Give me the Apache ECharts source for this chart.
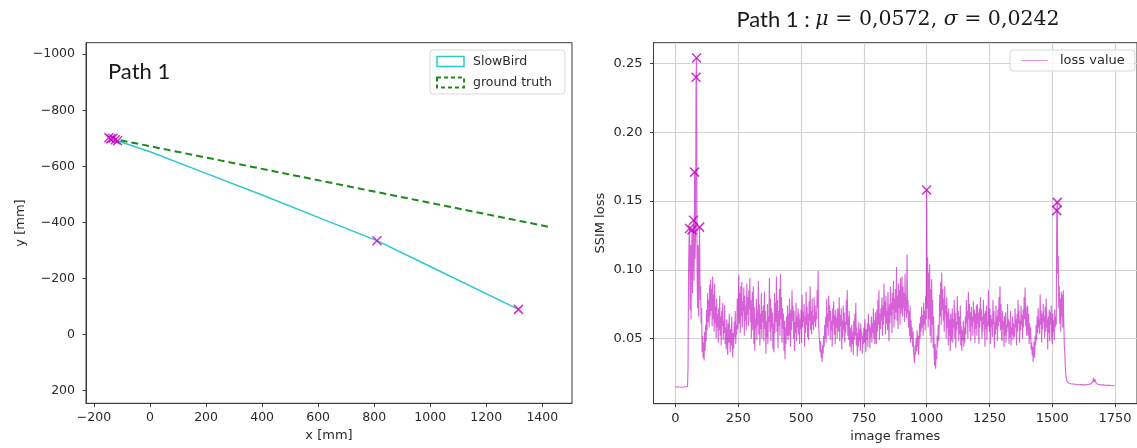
<!DOCTYPE html>
<html>
<head>
<meta charset="utf-8">
<script src="https://cdn.jsdelivr.net/npm/echarts@6/dist/echarts.min.js"></script>
<style>
html, body { margin: 0; padding: 0; background: #fff; }
#chart { width: 1137px; height: 448px; }
</style>
</head>
<body>
<div id="chart"></div>
<script>
// ---- Path 1 trajectory (left panel), millimetres ----
const slowBirdX = [-120, 0, 200, 400, 600, 810, 1000, 1315];
const slowBirdY = [-692, -652, -575, -498, -418, -335, -243, -90];
const groundTruthX = [-105, 1420];
const groundTruthY = [-693, -385];
const pathMarkX = [-147, -140, -132, -124, -116, 810, 1315];
const pathMarkY = [-702, -698, -700, -695, -691, -335, -90];
const xTicksMm = [-200, 0, 200, 400, 600, 800, 1000, 1200, 1400];
const yTicksMm = [-1000, -800, -600, -400, -200, 0, 200];

// ---- SSIM loss per image frame (right panel), one value every 2 frames ----
const frameStep = 2;
const lossValues = [
  // 0 - 48
  0.0148, 0.0148, 0.0147, 0.0148, 0.0147, 0.0147, 0.0148, 0.0147, 0.0147, 0.0146, 0.0147, 0.0146, 0.0146, 0.0147, 0.0146, 0.0146, 0.0147, 0.0146, 0.0146, 0.0146, 0.0147, 0.0146, 0.0146, 0.0147, 0.0152,
  // 50 - 98
  0.029, 0.098, 0.122, 0.130, 0.071, 0.118, 0.064, 0.112, 0.129, 0.083, 0.124, 0.136, 0.092, 0.171, 0.108, 0.127, 0.240, 0.254, 0.097, 0.072, 0.118, 0.066, 0.104, 0.131, 0.078,
  // 100 - 148
  0.088, 0.061, 0.072, 0.040, 0.052, 0.036, 0.047, 0.034, 0.055, 0.041, 0.060, 0.048, 0.071, 0.056, 0.083, 0.062, 0.078, 0.058, 0.089, 0.066, 0.093, 0.070, 0.086, 0.059, 0.095,
  // 150 - 198
  0.064, 0.082, 0.055, 0.090, 0.061, 0.073, 0.050, 0.079, 0.058, 0.068, 0.047, 0.072, 0.056, 0.081, 0.052, 0.066, 0.045, 0.070, 0.059, 0.076, 0.049, 0.063, 0.054, 0.074, 0.046,
  // 200 - 248
  0.058, 0.042, 0.064, 0.050, 0.038, 0.061, 0.047, 0.068, 0.052, 0.040, 0.057, 0.045, 0.066, 0.049, 0.036, 0.054, 0.043, 0.062, 0.051, 0.070, 0.046, 0.060, 0.053, 0.079, 0.057,
  // 250 - 298
  0.072, 0.096, 0.061, 0.083, 0.054, 0.088, 0.066, 0.091, 0.058, 0.077, 0.070, 0.087, 0.052, 0.081, 0.063, 0.074, 0.056, 0.090, 0.067, 0.080, 0.059, 0.085, 0.071, 0.094, 0.062,
  // 300 - 348
  0.078, 0.050, 0.069, 0.084, 0.056, 0.088, 0.046, 0.073, 0.041, 0.064, 0.058, 0.079, 0.049, 0.071, 0.060, 0.092, 0.053, 0.075, 0.045, 0.068, 0.057, 0.083, 0.050, 0.070, 0.062,
  // 350 - 398
  0.074, 0.048, 0.084, 0.057, 0.070, 0.039, 0.063, 0.051, 0.075, 0.046, 0.066, 0.062, 0.094, 0.055, 0.079, 0.048, 0.072, 0.058, 0.069, 0.042, 0.061, 0.040, 0.083, 0.054, 0.076,
  // 400 - 448
  0.062, 0.095, 0.055, 0.078, 0.043, 0.070, 0.059, 0.086, 0.052, 0.097, 0.064, 0.080, 0.047, 0.072, 0.057, 0.068, 0.041, 0.063, 0.035, 0.058, 0.046, 0.066, 0.052, 0.074, 0.049,
  // 450 - 498
  0.068, 0.052, 0.079, 0.060, 0.044, 0.071, 0.056, 0.085, 0.063, 0.074, 0.050, 0.070, 0.041, 0.062, 0.054, 0.076, 0.048, 0.066, 0.058, 0.072, 0.053, 0.068, 0.046, 0.064, 0.057,
  // 500 - 548
  0.071, 0.047, 0.082, 0.058, 0.069, 0.062, 0.075, 0.044, 0.066, 0.054, 0.084, 0.060, 0.073, 0.051, 0.068, 0.049, 0.077, 0.063, 0.088, 0.056, 0.070, 0.053, 0.079, 0.060, 0.066,
  // 550 - 598
  0.056, 0.080, 0.062, 0.074, 0.058, 0.069, 0.064, 0.085, 0.072, 0.099, 0.061, 0.052, 0.046, 0.040, 0.048, 0.036, 0.042, 0.033, 0.045, 0.039, 0.052, 0.044, 0.060, 0.050, 0.066,
  // 600 - 648
  0.047, 0.079, 0.058, 0.068, 0.052, 0.081, 0.063, 0.074, 0.049, 0.070, 0.056, 0.063, 0.044, 0.072, 0.060, 0.077, 0.053, 0.067, 0.046, 0.071, 0.058, 0.065, 0.050, 0.072, 0.061,
  // 650 - 698
  0.055, 0.080, 0.048, 0.067, 0.059, 0.072, 0.042, 0.063, 0.051, 0.074, 0.056, 0.069, 0.047, 0.062, 0.054, 0.078, 0.060, 0.085, 0.052, 0.066, 0.049, 0.070, 0.044, 0.058, 0.051,
  // 700 - 748
  0.040, 0.060, 0.046, 0.055, 0.038, 0.063, 0.049, 0.068, 0.052, 0.076, 0.045, 0.058, 0.037, 0.054, 0.044, 0.062, 0.048, 0.057, 0.041, 0.061, 0.050, 0.055, 0.039, 0.052, 0.046,
  // 750 - 798
  0.058, 0.047, 0.064, 0.052, 0.040, 0.057, 0.049, 0.061, 0.044, 0.068, 0.055, 0.060, 0.043, 0.058, 0.051, 0.066, 0.047, 0.061, 0.054, 0.072, 0.050, 0.063, 0.046, 0.069, 0.057,
  // 800 - 848
  0.046, 0.071, 0.055, 0.078, 0.060, 0.085, 0.049, 0.068, 0.057, 0.072, 0.063, 0.080, 0.052, 0.074, 0.060, 0.090, 0.066, 0.077, 0.053, 0.081, 0.061, 0.070, 0.056, 0.084, 0.064,
  // 850 - 898
  0.048, 0.075, 0.061, 0.088, 0.067, 0.076, 0.054, 0.083, 0.071, 0.092, 0.058, 0.079, 0.064, 0.086, 0.069, 0.102, 0.063, 0.081, 0.057, 0.090, 0.072, 0.085, 0.060, 0.094, 0.068,
  // 900 - 948
  0.074, 0.095, 0.066, 0.088, 0.072, 0.083, 0.062, 0.097, 0.070, 0.080, 0.065, 0.111, 0.068, 0.078, 0.058, 0.070, 0.052, 0.074, 0.047, 0.063, 0.050, 0.058, 0.044, 0.055, 0.040,
  // 950 - 998
  0.036, 0.032, 0.045, 0.038, 0.050, 0.041, 0.056, 0.044, 0.052, 0.038, 0.048, 0.061, 0.050, 0.066, 0.055, 0.073, 0.058, 0.067, 0.052, 0.076, 0.060, 0.070, 0.056, 0.081, 0.064,
  // 1000 - 1048
  0.158, 0.072, 0.109, 0.058, 0.098, 0.064, 0.104, 0.052, 0.086, 0.047, 0.093, 0.060, 0.078, 0.043, 0.066, 0.038, 0.030, 0.046, 0.028, 0.041, 0.035, 0.052, 0.044, 0.060, 0.048,
  // 1050 - 1098
  0.058, 0.082, 0.066, 0.091, 0.060, 0.098, 0.071, 0.086, 0.063, 0.079, 0.055, 0.088, 0.067, 0.074, 0.050, 0.080, 0.058, 0.069, 0.045, 0.072, 0.052, 0.064, 0.041, 0.068, 0.048,
  // 1100 - 1148
  0.055, 0.072, 0.047, 0.064, 0.058, 0.078, 0.050, 0.069, 0.043, 0.062, 0.056, 0.081, 0.060, 0.070, 0.048, 0.066, 0.053, 0.074, 0.045, 0.059, 0.041, 0.056, 0.049, 0.063, 0.044,
  // 1150 - 1198
  0.058, 0.047, 0.066, 0.053, 0.078, 0.061, 0.070, 0.050, 0.084, 0.064, 0.075, 0.055, 0.069, 0.048, 0.073, 0.059, 0.066, 0.052, 0.077, 0.062, 0.071, 0.047, 0.068, 0.057, 0.074,
  // 1200 - 1248
  0.052, 0.075, 0.061, 0.069, 0.046, 0.072, 0.058, 0.080, 0.063, 0.071, 0.050, 0.066, 0.055, 0.078, 0.060, 0.068, 0.044, 0.070, 0.057, 0.074, 0.049, 0.063, 0.059, 0.085, 0.062,
  // 1250 - 1298
  0.055, 0.072, 0.046, 0.067, 0.058, 0.064, 0.051, 0.078, 0.060, 0.070, 0.043, 0.062, 0.053, 0.074, 0.057, 0.066, 0.048, 0.071, 0.059, 0.080, 0.062, 0.088, 0.056, 0.075, 0.050,
  // 1300 - 1348
  0.048, 0.070, 0.057, 0.063, 0.044, 0.066, 0.052, 0.069, 0.047, 0.060, 0.055, 0.075, 0.058, 0.064, 0.046, 0.062, 0.051, 0.070, 0.045, 0.058, 0.053, 0.066, 0.049, 0.061, 0.054,
  // 1350 - 1398
  0.051, 0.072, 0.058, 0.064, 0.045, 0.068, 0.055, 0.078, 0.061, 0.070, 0.047, 0.063, 0.056, 0.074, 0.060, 0.067, 0.050, 0.071, 0.058, 0.080, 0.064, 0.087, 0.059, 0.073, 0.052,
  // 1400 - 1448
  0.062, 0.074, 0.052, 0.068, 0.046, 0.061, 0.050, 0.058, 0.042, 0.047, 0.038, 0.044, 0.033, 0.041, 0.048, 0.036, 0.052, 0.045, 0.060, 0.049, 0.066, 0.054, 0.072, 0.058, 0.064,
  // 1450 - 1498
  0.053, 0.082, 0.060, 0.070, 0.047, 0.068, 0.057, 0.075, 0.062, 0.066, 0.050, 0.073, 0.055, 0.079, 0.058, 0.064, 0.042, 0.066, 0.054, 0.071, 0.048, 0.069, 0.060, 0.074, 0.052,
  // 1500 - 1548
  0.046, 0.068, 0.055, 0.063, 0.049, 0.071, 0.058, 0.066, 0.060, 0.143, 0.149, 0.097, 0.110, 0.072, 0.088, 0.061, 0.079, 0.055, 0.084, 0.066, 0.082, 0.058, 0.085, 0.062, 0.045,
  // 1550 - 1598
  0.040, 0.030, 0.024, 0.021, 0.019, 0.0185, 0.0180, 0.0177, 0.0175, 0.0172, 0.0173, 0.0170, 0.0171, 0.0169, 0.0170, 0.0168, 0.0169, 0.0167, 0.0168, 0.0166, 0.0168, 0.0167, 0.0166, 0.0167, 0.0166,
  // 1600 - 1648
  0.0165, 0.0167, 0.0166, 0.0164, 0.0166, 0.0165, 0.0163, 0.0165, 0.0166, 0.0164, 0.0165, 0.0163, 0.0164, 0.0166, 0.0165, 0.0163, 0.0164, 0.0165, 0.0166, 0.0164, 0.0163, 0.0165, 0.0166, 0.0168, 0.0166,
  // 1650 - 1698
  0.0165, 0.0167, 0.0170, 0.0175, 0.0172, 0.0168, 0.0188, 0.0215, 0.0182, 0.0176, 0.0205, 0.0184, 0.0179, 0.0172, 0.0170, 0.0168, 0.0167, 0.0168, 0.0166, 0.0165, 0.0166, 0.0164, 0.0165, 0.0163, 0.0164,
  // 1700 - 1748
  0.0163, 0.0162, 0.0163, 0.0161, 0.0162, 0.0161, 0.0160, 0.0161, 0.0160, 0.0160, 0.0159, 0.0160, 0.0159, 0.0158, 0.0159, 0.0158, 0.0159, 0.0158, 0.0157, 0.0158, 0.0158, 0.0157, 0.0158, 0.0157, 0.0158,
  // 1750
  0.0157
];
const peakFrames = [56, 66, 72, 76, 82, 84, 96, 1000, 1518, 1520];
const frameTicks = [0, 250, 500, 750, 1000, 1250, 1500, 1750];
const lossTicks = [0.05, 0.10, 0.15, 0.20, 0.25];

// ---- styling ----
const FONT = 'DejaVu Sans';
const INK = '#2a2a2a';
const FRAME = '#3a3a3a';
const CYAN = '#2cc8cc';
const GREEN = '#1a8a1a';
const MAGENTA = '#bf00bf';
const CROSS = 'path://M0,0L10,10M10,0L0,10';

const minus = v => String(v).replace('-', '\u2212');

function valueAxis(opts) {
  return Object.assign({
    type: 'value',
    axisLine: { show: true, onZero: false, lineStyle: { color: FRAME, width: 1 } },
    axisTick: { show: true, length: 3.5, lineStyle: { color: FRAME, width: 1 }, customValues: opts.ticks },
    axisLabel: { customValues: opts.ticks, color: INK, fontFamily: FONT, fontSize: opts.fontSize, margin: opts.margin, formatter: opts.fmt },
    splitLine: opts.grid ? { show: true, lineStyle: { color: '#d2d2d2', width: 1.2 } } : { show: false },
    nameLocation: 'middle',
    nameTextStyle: { color: INK, fontFamily: FONT, fontSize: 13 }
  }, opts.extra);
}

const pair = (xs, ys) => xs.map((x, i) => [x, ys[i]]);

const chart = echarts.init(document.getElementById('chart'), null, { renderer: 'canvas' });

chart.setOption({
  animation: false,
  backgroundColor: '#fff',
  grid: [
    { left: 86, top: 42.7, width: 486, height: 360.6, show: true, borderColor: FRAME, borderWidth: 1, backgroundColor: '#fff' },
    { left: 653.5, top: 42.7, width: 486.3, height: 361, show: true, borderColor: FRAME, borderWidth: 1, backgroundColor: '#fff' }
  ],
  xAxis: [
    valueAxis({ ticks: xTicksMm, fontSize: 12.5, margin: 8, fmt: minus,
      extra: { gridIndex: 0, min: -228.5, max: 1506, name: 'x [mm]', nameGap: 26 } }),
    valueAxis({ ticks: frameTicks, fontSize: 13, margin: 8, fmt: v => String(v), grid: true,
      extra: { gridIndex: 1, min: -87.5, max: 1837.5, name: 'image frames', nameGap: 26 } })
  ],
  yAxis: [
    valueAxis({ ticks: yTicksMm, fontSize: 12.5, margin: 11, fmt: minus,
      extra: { gridIndex: 0, min: -1041, max: 245, inverse: true, name: 'y [mm]', nameGap: 59 } }),
    valueAxis({ ticks: lossTicks, fontSize: 13, margin: 11, fmt: v => v.toFixed(2), grid: true,
      extra: { gridIndex: 1, min: 0.0026, max: 0.2651, name: 'SSIM loss', nameGap: 46 } })
  ],
  legend: [
    {
      left: 430, top: 50, orient: 'vertical',
      itemWidth: 27, itemHeight: 10, itemGap: 8,
      padding: [5, 13, 5, 6],
      borderColor: '#d8d8d8', borderWidth: 1, borderRadius: 3,
      backgroundColor: 'rgba(255,255,255,0.8)',
      textStyle: { color: INK, fontFamily: FONT, fontSize: 12.5, padding: [0, 0, 0, 4] },
      selectedMode: false,
      data: [
        { name: 'SlowBird', icon: 'rect', itemStyle: { color: 'rgba(0,0,0,0)', borderColor: CYAN, borderWidth: 1.5 } },
        { name: 'ground truth', icon: 'rect', itemStyle: { color: 'rgba(0,0,0,0)', borderColor: GREEN, borderWidth: 2, borderType: [4, 3] } }
      ]
    },
    {
      left: 1010, top: 50, orient: 'vertical',
      itemWidth: 27, itemHeight: 1.2,
      padding: [4, 10, 4, 11],
      borderColor: '#d8d8d8', borderWidth: 1, borderRadius: 3,
      backgroundColor: 'rgba(255,255,255,0.8)',
      textStyle: { color: INK, fontFamily: FONT, fontSize: 13, padding: [0, 0, 0, 7] },
      selectedMode: false,
      data: [
        { name: 'loss value', icon: 'rect', itemStyle: { color: 'rgba(191,0,191,0.4)', borderWidth: 0 } }
      ]
    }
  ],
  graphic: [
    {
      type: 'text', x: 108, y: 72,
      style: { text: 'Path 1', font: '22px Lato', fill: '#1a1a1a', align: 'left', verticalAlign: 'middle' }
    },
    {
      type: 'text', x: 898, y: 20,
      style: {
        text: '{a|Path 1 : }{m|\u03bc}{b| = 0,0572, }{m|\u03c3}{b| = 0,0242}',
        align: 'center', verticalAlign: 'middle', fill: '#1a1a1a',
        rich: {
          a: { fontFamily: 'Lato', fontSize: 22, fill: '#1a1a1a' },
          m: { fontFamily: 'DejaVu Serif', fontStyle: 'italic', fontSize: 20.5, fill: '#1a1a1a' },
          b: { fontFamily: 'DejaVu Serif', fontSize: 20.5, fill: '#1a1a1a' }
        }
      }
    }
  ],
  series: [
    {
      name: 'SlowBird', type: 'line', xAxisIndex: 0, yAxisIndex: 0,
      data: pair(slowBirdX, slowBirdY), symbol: 'none',
      lineStyle: { color: CYAN, width: 1.5 }, itemStyle: { color: CYAN }, z: 2
    },
    {
      name: 'ground truth', type: 'line', xAxisIndex: 0, yAxisIndex: 0,
      data: pair(groundTruthX, groundTruthY), symbol: 'none',
      lineStyle: { color: GREEN, width: 2, type: [7, 4] }, itemStyle: { color: GREEN }, z: 2
    },
    {
      name: 'path marks', type: 'scatter', xAxisIndex: 0, yAxisIndex: 0,
      data: pair(pathMarkX, pathMarkY), symbol: CROSS, symbolSize: 9,
      itemStyle: { color: 'rgba(0,0,0,0)', borderColor: MAGENTA, borderWidth: 1.5 }, z: 3
    },
    {
      name: 'loss value', type: 'line', xAxisIndex: 1, yAxisIndex: 1,
      data: lossValues.map((v, i) => [i * frameStep, v]), symbol: 'none',
      lineStyle: { color: MAGENTA, width: 1.1, opacity: 0.62 }, itemStyle: { color: MAGENTA }, z: 2
    },
    {
      name: 'loss peaks', type: 'scatter', xAxisIndex: 1, yAxisIndex: 1,
      data: peakFrames.map(f => [f, lossValues[f / frameStep]]), symbol: CROSS, symbolSize: 9,
      itemStyle: { color: 'rgba(0,0,0,0)', borderColor: MAGENTA, borderWidth: 1.5 }, z: 3
    }
  ]
});
</script>
</body>
</html>
